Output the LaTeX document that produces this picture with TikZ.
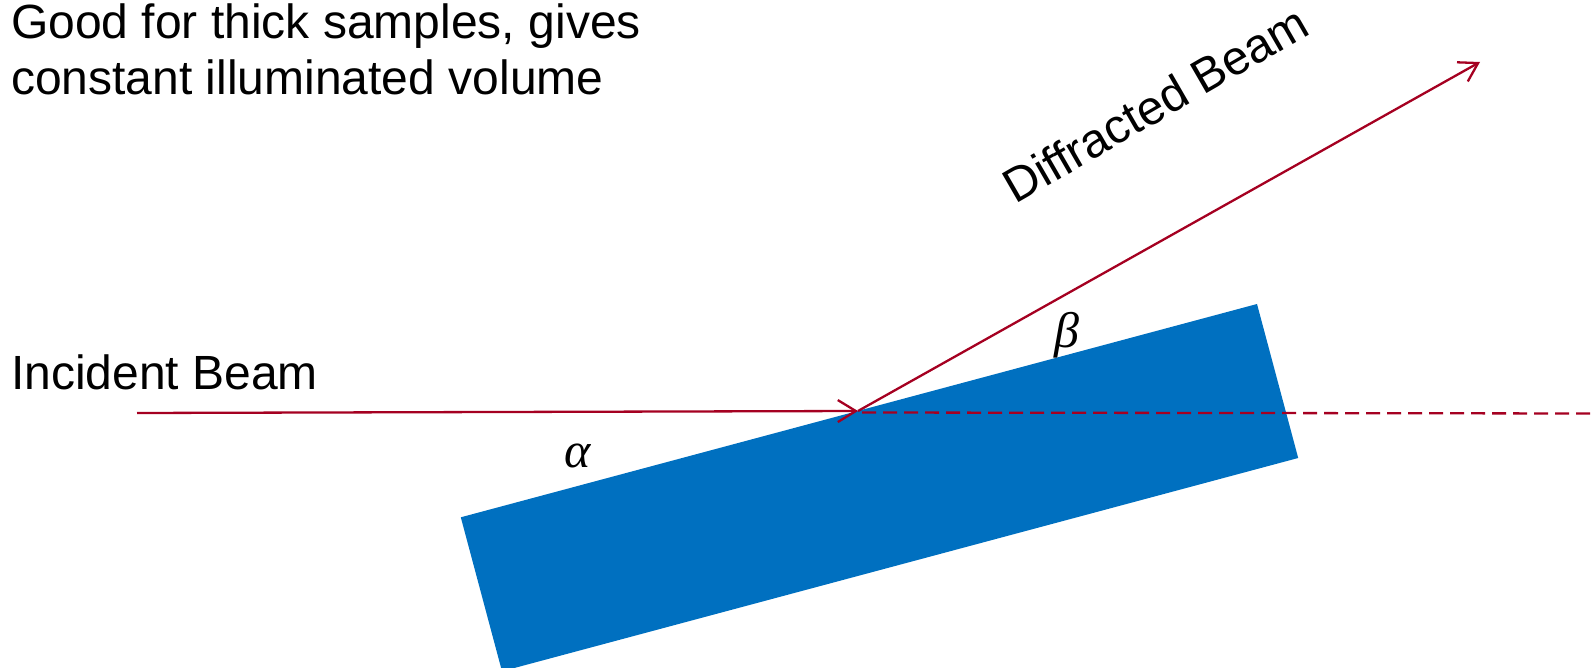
\RequirePackage{fix-cm}
\documentclass[tikz,border=0pt]{standalone}
\usepackage{fontspec}
\setmainfont{Liberation Sans}
\newfontfamily\greekfont{Liberation Serif}
\usetikzlibrary{arrows.meta}
\definecolor{beam}{HTML}{A50021}
\definecolor{sample}{HTML}{0070C0}
\begin{document}
\begin{tikzpicture}[x=1pt,y=-1pt,
  beamline/.style={draw=beam, line width=2.3pt},
  tipend/.style={-{Straight Barb[length=18pt,width=22pt,line width=2.3pt]}},
  lbl/.style={font=\fontsize{48}{56}\selectfont, inner sep=0pt, anchor=base west},
  greek/.style={font=\greekfont\itshape\fontsize{50}{60}\selectfont, inner sep=0pt}]
\useasboundingbox (0,0) rectangle (1593,668);
% sample
\fill[sample] (460.8,517.3) -- (1257,304) -- (1298.2,458) -- (502,671.3) -- cycle;
% beams
\coordinate (P) at (858,411);
\coordinate (inc) at (137,413);
\coordinate (dif) at (1480,62);
\coordinate (dashend) at (1593,413.5);
\draw[beamline, dash pattern=on 14pt off 7pt] (P) ++(4,1.5) coordinate (dashstart) (dashstart) -- (dashend);
\draw[beamline, tipend] (inc) -- (P);
\draw[beamline, tipend] (P) -- (dif);
% labels
\node[lbl, align=left] (note) at (11,95) {Good for thick samples, gives\\constant illuminated volume};
\node[lbl] (inclbl) at (11,389) {Incident Beam};
\node[lbl, rotate=30] (diflbl) at (1015,205) {Diffracted Beam};
\node[greek] (alpha) at (578,456) {α};
\node[greek] (beta) at (1067,335) {β};
\end{tikzpicture}
\end{document}
